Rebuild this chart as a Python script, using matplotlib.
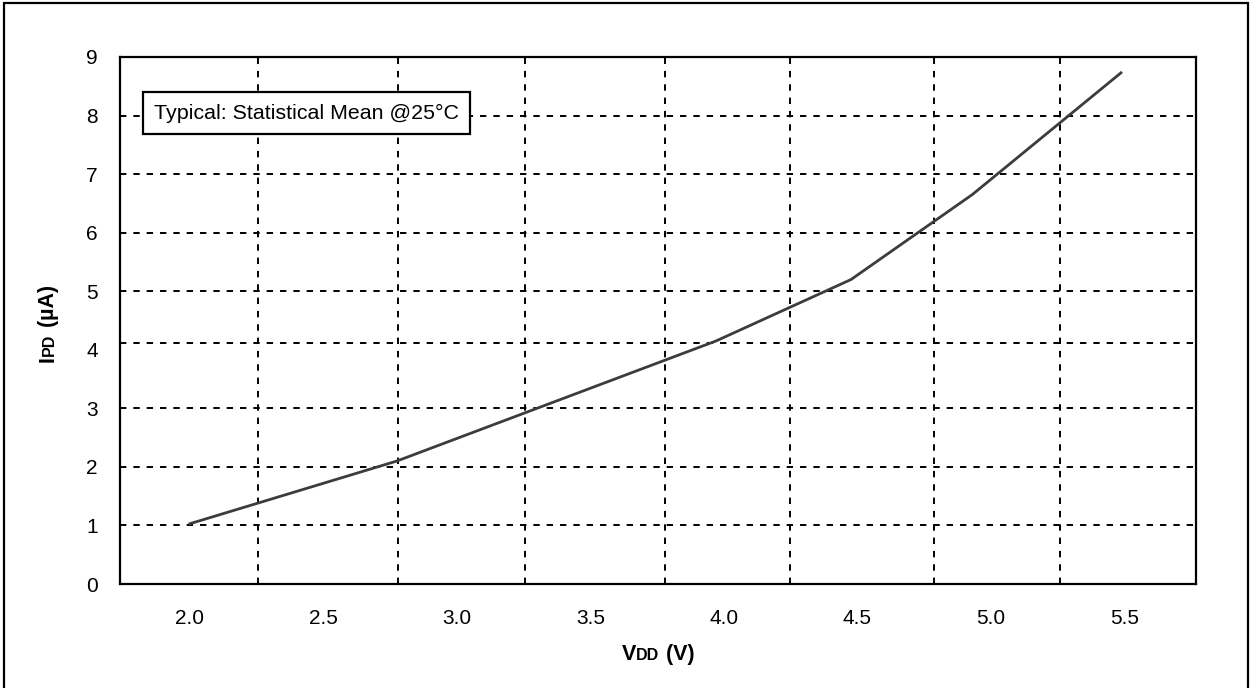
import matplotlib
matplotlib.use("Agg")
import matplotlib.pyplot as plt
from matplotlib.patches import Rectangle

plt.rcParams['font.family'] = ['Liberation Sans', 'DejaVu Sans']
plt.rcParams['lines.scale_dashes'] = False

# data
vdd = [2.0, 2.775, 3.97, 4.476, 4.93, 5.487]
ipd = [1.03, 2.10, 4.15, 5.20, 6.65, 8.73]
x_ticks = [2.0, 2.5, 3.0, 3.5, 4.0, 4.5, 5.0, 5.5]
x_ticklabels = ["2.0", "2.5", "3.0", "3.5", "4.0", "4.5", "5.0", "5.5"]
y_ticks = [0, 1, 2, 3, 4, 5, 6, 7, 8, 9]
v_grid = [2.255, 2.779, 3.255, 3.779, 4.247, 4.787, 5.258]
h_grid = [1, 2, 3, 4.12, 5, 6, 7, 8]
note = "Typical: Statistical Mean @25°C"

W, H = 1250, 688
FS = 15
fig = plt.figure(figsize=(W / 100, H / 100), dpi=100)
ax = fig.add_axes([120 / W, 1 - 584 / H, (1196 - 120) / W, (584 - 57) / H])
ax.set_xlim(1.738, 5.768)
ax.set_ylim(0, 9)

# outer border (bottom edge falls outside the picture)
fig.patches.append(Rectangle((4 / W, -0.01), (1248 - 4) / W, (H - 3) / H + 0.01,
                             transform=fig.transFigure, fill=False,
                             edgecolor='black', linewidth=1.6))

dash = (4.6, 5.0)
for gx in v_grid:
    ax.axvline(gx, color='black', linewidth=1.4, dashes=dash, zorder=1)
for gy in h_grid:
    ax.axhline(gy, color='black', linewidth=1.4, dashes=dash, zorder=1)

ax.plot(vdd, ipd, color='#3c3c3c', linewidth=2.0, zorder=3)

for s in ax.spines.values():
    s.set_linewidth(1.6)

ax.set_xticks(x_ticks)
ax.set_xticklabels(x_ticklabels)
ax.set_yticks(y_ticks)
ax.tick_params(axis='both', length=0, labelsize=FS)
ax.tick_params(axis='x', pad=18)
ax.tick_params(axis='y', pad=16)

ax.text(154, H - 113, note, transform=None, fontsize=15.4, ha='left', va='center',
        zorder=5,
        bbox=dict(boxstyle='square,pad=0.52', facecolor='white',
                  edgecolor='black', linewidth=1.6))

# axis titles with small-caps style subscripts
fig.canvas.draw()
r = fig.canvas.get_renderer()

def measure(parts, rot):
    L = 0
    for txt, size in parts:
        t = fig.text(0, 0, txt, fontsize=size, fontweight='bold', rotation=rot)
        bb = t.get_window_extent(r)
        L += bb.width if rot == 0 else bb.height
        t.remove()
    return L

def chain_h(parts, start_x, base_y):
    pos = start_x
    for txt, size in parts:
        t = fig.text(pos / W, base_y / H, txt, fontsize=size, fontweight='bold',
                     ha='left', va='baseline')
        pos = t.get_window_extent(r).x1

def chain_v(parts, base_x, start_y):
    pos = start_y
    for txt, size in parts:
        t = fig.text(base_x / W, pos / H, txt, fontsize=size, fontweight='bold',
                     ha='left', va='baseline', rotation=90,
                     rotation_mode='anchor')
        pos = t.get_window_extent(r).y1

xparts = [("V", 15.5), ("DD", 11.5), (" (V)", 15.5)]
yparts = [("I", 15.5), ("PD", 11.5), (" (\u00b5A)", 15.5)]

cx = (120 + 1196) / 2
chain_h(xparts, cx - measure(xparts, 0) / 2, H - 660)
cy = H - (57 + 584) / 2
chain_v(yparts, 54, cy - measure(yparts, 90) / 2 - 3)

fig.savefig("out.png", dpi=100)
